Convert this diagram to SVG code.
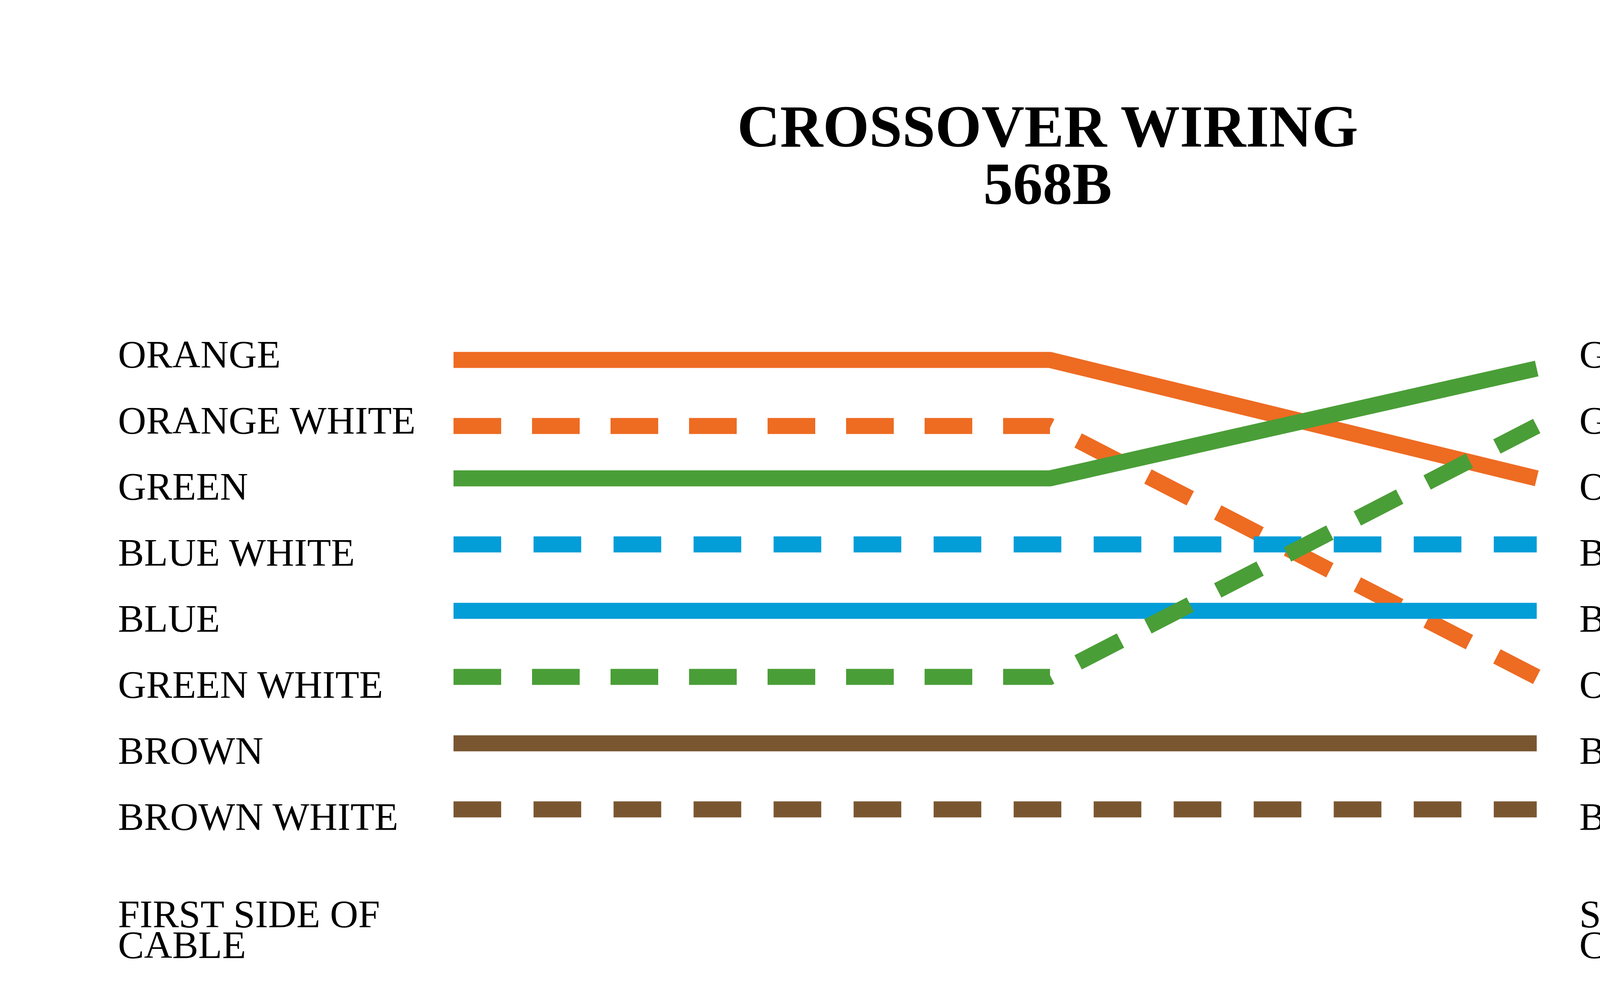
<svg xmlns="http://www.w3.org/2000/svg" width="5090" height="2569" viewBox="0 0 5090 2569">
<style>
text{font-family:"Liberation Serif","Times New Roman",serif;fill:#000}
.l{font-size:100px}
.t{font-size:152px;font-weight:bold;text-anchor:middle}
.w{fill:none;stroke-width:41;stroke-linejoin:miter}
.d{stroke-dasharray:122 79}
.s{stroke-dasharray:122 82.85}
.o{stroke:#EE6B22}.g{stroke:#4A9E37}.b{stroke:#039DD8}.n{stroke:#7A5630}
</style>
<rect width="5090" height="2569" fill="#fff"/>
<g id="title"><text class="t" x="2682" y="375">CROSSOVER WIRING</text><text class="t" x="2682" y="522">568B</text></g>
<g id="connectors">
<polyline class="w o" points="1161,921 2688,921 3934,1224"/>
<polyline class="w o d" points="1161,1090 2688,1090 3934,1732"/>
<polyline class="w g" points="1161,1224 2688,1224 3934,943"/>
<line class="w b s" x1="1161" y1="1393" x2="3934" y2="1393"/>
<line class="w b" x1="1161" y1="1563" x2="3934" y2="1563"/>
<polyline class="w g d" points="1161,1732 2688,1732 3934,1090"/>
<line class="w n" x1="1161" y1="1902" x2="3934" y2="1902"/>
<line class="w n s" x1="1161" y1="2071" x2="3934" y2="2071"/>
</g>
<g id="left-labels">
<text class="l" x="302" y="940">ORANGE</text>
<text class="l" x="302" y="1109">ORANGE WHITE</text>
<text class="l" x="302" y="1278">GREEN</text>
<text class="l" x="302" y="1447">BLUE WHITE</text>
<text class="l" x="302" y="1616">BLUE</text>
<text class="l" x="302" y="1785">GREEN WHITE</text>
<text class="l" x="302" y="1954">BROWN</text>
<text class="l" x="302" y="2123">BROWN WHITE</text>
<text class="l" x="302" y="2372">FIRST SIDE OF</text>
<text class="l" x="302" y="2451">CABLE</text>
</g>
<g id="right-labels">
<text class="l" x="4043" y="940">GREEN</text>
<text class="l" x="4043" y="1109">GREEN WHITE</text>
<text class="l" x="4043" y="1278">ORANGE</text>
<text class="l" x="4043" y="1447">BLUE WHITE</text>
<text class="l" x="4043" y="1616">BLUE</text>
<text class="l" x="4043" y="1785">ORANGE WHITE</text>
<text class="l" x="4043" y="1954">BROWN</text>
<text class="l" x="4043" y="2123">BROWN WHITE</text>
<text class="l" x="4043" y="2372">SECOND SIDE OF</text>
<text class="l" x="4043" y="2451">CABLE</text>
</g>
</svg>
